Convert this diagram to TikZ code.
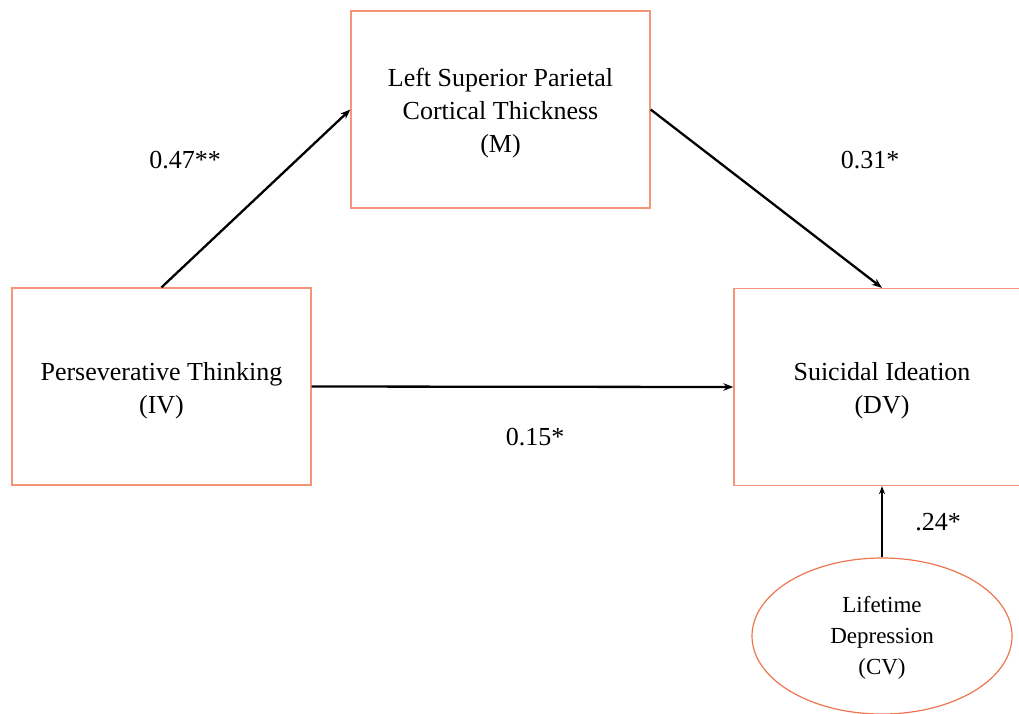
\documentclass[tikz,border=0pt]{standalone}
\usepackage{fontspec}
\setmainfont{Liberation Serif}
\usetikzlibrary{arrows.meta,shapes.geometric}
\definecolor{boxc}{RGB}{243,150,120}
\definecolor{ellc}{RGB}{236,118,80}
\begin{document}
\begin{tikzpicture}[x=1pt,y=-1pt,
  varbox/.style={draw=boxc,line width=1.3pt,minimum width=299pt,minimum height=197pt,inner sep=0pt},
  boxtext/.style={align=center,inner sep=0pt,font=\fontsize{26}{33}\selectfont},
  covar/.style={ellipse,draw=ellc,line width=1.2pt,minimum width=260pt,minimum height=156pt,inner sep=0pt},
  covtext/.style={align=center,inner sep=0pt,font=\fontsize{23}{31}\selectfont},
  path/.style={line width=2.3pt,-{Stealth[length=10pt,width=7.5pt]}},
  lab/.style={font=\fontsize{26}{30}\selectfont}]
\useasboundingbox (0,0) rectangle (1019,713);
\clip (0,0) rectangle (1019,713);
\node[varbox] (M) at (500.5,109.5) {};
\node[boxtext] (Mt) at (500.5,113) {Left Superior Parietal\\Cortical Thickness\\(M)};
\node[varbox] (IV) at (161.5,386.5) {};
\node[boxtext] (IVt) at (161.5,391) {Perseverative Thinking\\(IV)};
\node[varbox,minimum width=296pt] (DV) at (882,387) {};
\node[boxtext] (DVt) at (882,391) {Suicidal Ideation\\(DV)};
\node[covar] (CV) at (882,636) {};
\node[covtext] (CVt) at (882,638) {Lifetime\\Depression\\(CV)};
\draw[path] (IV.north) -- (M.west);
\draw[path] (M.east) -- (DV.north);
\draw[path] (IV.east) -- (DV.west);
\draw[line width=1.6pt,-{Stealth[length=8pt,width=6pt]}] (CV.north) -- (DV.south);
\node[lab] (l1) at (185,160) {0.47**};
\node[lab] (l2) at (870,160) {0.31*};
\node[lab] (l3) at (535,437) {0.15*};
\node[lab] (l4) at (938,522) {.24*};
\end{tikzpicture}
\end{document}
